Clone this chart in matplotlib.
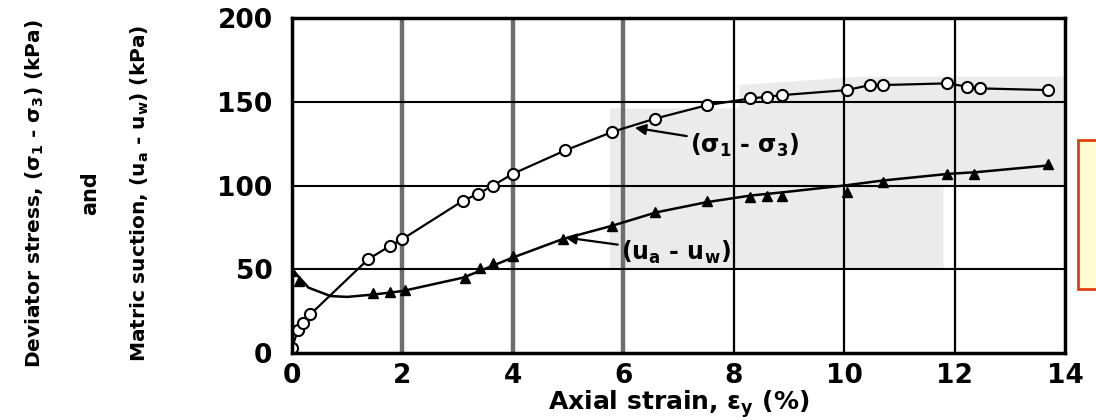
import matplotlib
matplotlib.use('Agg')
import matplotlib.pyplot as plt
from matplotlib.patches import Polygon, Rectangle

plt.rcParams['font.family'] = ['DejaVu Sans']
plt.rcParams['mathtext.default'] = 'bf'

# deviator stress (open circles)
strain_dev = [0.0, 0.11, 0.2, 0.33, 1.38, 1.78, 2.0, 3.1, 3.37, 3.64, 4.0, 4.95, 5.8,
              6.58, 7.52, 8.3, 8.6, 8.88, 10.05, 10.47, 10.7, 11.87, 12.23, 12.46, 13.7]
dev_stress = [3, 14, 18, 23, 56, 64, 68, 91, 95, 100, 107, 121, 132,
              140, 148, 152, 153, 154, 157, 160, 160, 161, 159, 158, 157]

# matric suction (filled triangles)
strain_suc = [0.0, 0.12, 1.47, 1.78, 2.05, 3.13, 3.4, 3.64, 4.0, 4.9, 5.8,
              6.58, 7.52, 8.3, 8.6, 8.88, 10.05, 10.7, 11.87, 12.35, 13.7]
suction = [49, 43, 36, 36.5, 37.5, 45, 51, 53.5, 58, 68, 76,
           84, 91, 93, 93.5, 94, 96, 102, 107, 107, 113]

# trace of the hand-drawn suction curve
suc_line_x = [0.0, 0.3, 0.7, 1.0, 1.5, 2.0, 3.1, 4.0, 4.9, 5.8, 6.6, 7.5, 8.3, 8.9,
              10.0, 10.7, 11.9, 12.4, 13.7]
suc_line_y = [50, 39, 34, 33.5, 35, 37, 45, 57, 68, 76, 84, 90, 94, 96,
              100, 103, 107, 108, 112]

# shaded highlight outline (strain, kPa)
shade_x = [5.76, 5.76, 8.1, 8.1, 10.3, 13.97, 13.97, 11.8, 11.8]
shade_y = [49.5, 146, 146, 160, 165, 165, 100, 100, 49.5]

x_ticks = [0, 2, 4, 6, 8, 10, 12, 14]
y_ticks = [0, 50, 100, 150, 200]

fig = plt.figure(figsize=(10.96, 4.2), dpi=100)
ax = fig.add_axes([0.2664, 0.1595, 0.7053, 0.7975])

ax.add_patch(Polygon(list(zip(shade_x, shade_y)), closed=True,
                     facecolor='#ebebeb', edgecolor='none', zorder=0))

for gx in [2, 4, 6]:
    ax.axvline(gx, color='#6e6e6e', lw=3.2, zorder=1)
for gx in [8, 10, 12]:
    ax.axvline(gx, color='black', lw=1.6, zorder=1)
for gy in [50, 100, 150]:
    ax.axhline(gy, color='black', lw=1.5, zorder=1)

ax.plot(strain_dev, dev_stress, color='black', lw=1.6, zorder=3)
ax.plot(strain_dev, dev_stress, ls='none', marker='o', ms=8, mfc='white',
        mec='black', mew=1.5, zorder=4)

ax.plot(suc_line_x, suc_line_y, color='black', lw=1.8, zorder=3)
ax.plot(strain_suc, suction, ls='none', marker='^', ms=7.5, color='black', zorder=4)

arrow = dict(arrowstyle='-|>', lw=1.6, color='black', mutation_scale=16,
             shrinkA=0, shrinkB=0)
ax.annotate(r'($\sigma_1$ - $\sigma_3$)', xy=(6.21, 134.5), xytext=(7.2, 124),
            fontsize=17, fontweight='bold', va='center', ha='left',
            arrowprops=arrow, zorder=5)
ax.annotate(r'(u$_a$ - u$_w$)', xy=(4.95, 69), xytext=(5.95, 60),
            fontsize=17, fontweight='bold', va='center', ha='left',
            arrowprops=arrow, zorder=5)

ax.set_xlim(0, 14)
ax.set_ylim(0, 200)
ax.set_xticks(x_ticks)
ax.set_yticks(y_ticks)
ax.tick_params(axis='x', length=0, labelsize=19, pad=7)
ax.tick_params(axis='y', length=0, labelsize=19, pad=14)
for lab in ax.get_xticklabels() + ax.get_yticklabels():
    lab.set_fontweight('bold')
for sp in ax.spines.values():
    sp.set_linewidth(2.5)
    sp.set_zorder(6)

fig.text(0.619, 0.037, r'Axial strain, $\epsilon_y$ (%)', fontsize=18,
         fontweight='bold', ha='center', va='center')

fig.text(0.032, 0.54, r'Deviator stress, ($\sigma_1$ - $\sigma_3$) (kPa)',
         rotation=90, ha='center', va='center', fontsize=14.5, fontweight='bold')
fig.text(0.082, 0.54, 'and', rotation=90, ha='center', va='center',
         fontsize=15, fontweight='bold')
fig.text(0.128, 0.54, r'Matric suction, (u$_a$ - u$_w$) (kPa)',
         rotation=90, ha='center', va='center', fontsize=14.5, fontweight='bold')

# yellow note box at the right edge
fig.add_artist(Rectangle((1078 / 1096, 1 - 289 / 420), 0.03, 149 / 420,
                         transform=fig.transFigure, facecolor='#fffcd2',
                         edgecolor='#e2400f', lw=2))

fig.savefig('out.png', dpi=100)
